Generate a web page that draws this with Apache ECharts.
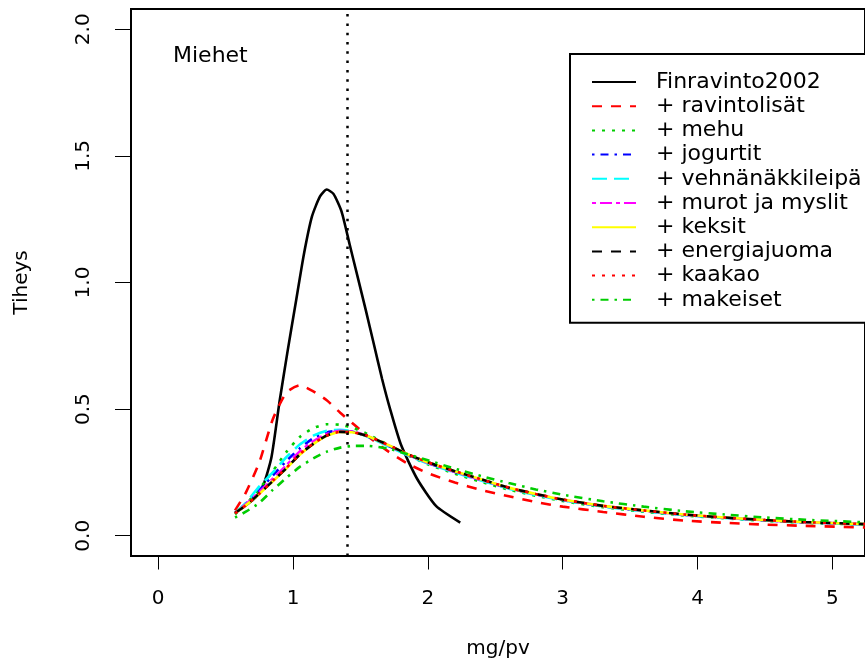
<!DOCTYPE html>
<html>
<head>
<meta charset="utf-8">
<script src="https://cdn.jsdelivr.net/npm/echarts@6/dist/echarts.min.js"></script>
<style>
html,body{margin:0;padding:0;background:#fff;}
#chart{width:865px;height:668px;}
</style>
</head>
<body>
<div id="chart"></div>
<script>
// x grid (mg/pv) shared by the lower density curves
var xGrid = [0.57, 0.65, 0.75, 0.85, 0.95, 1.05, 1.15, 1.25, 1.35, 1.45, 1.55, 1.7, 1.85, 2.0, 2.2, 2.4, 2.6, 2.8, 3.0, 3.3, 3.6, 3.9, 4.2, 4.5, 4.8, 5.3];

// Finravinto2002 has its own (narrower) grid
var finX = [0.57, 0.65, 0.72, 0.78, 0.84, 0.9, 0.96, 1.02, 1.08, 1.14, 1.2, 1.25, 1.3, 1.36, 1.42, 1.48, 1.54, 1.6, 1.66, 1.72, 1.8, 1.92, 2.06, 2.24];
var finY = [0.09, 0.12, 0.15, 0.2, 0.31, 0.53, 0.73, 0.92, 1.11, 1.26, 1.34, 1.367, 1.35, 1.28, 1.15, 1.02, 0.89, 0.755, 0.62, 0.5, 0.36, 0.225, 0.118, 0.052];

var ravintolisat = [0.1, 0.17, 0.29, 0.46, 0.565, 0.594, 0.57, 0.535, 0.486, 0.44, 0.395, 0.335, 0.285, 0.247, 0.21, 0.18, 0.156, 0.133, 0.115, 0.094, 0.075, 0.06, 0.051, 0.044, 0.039, 0.032];
var mehu = [0.085, 0.125, 0.185, 0.255, 0.33, 0.39, 0.425, 0.44, 0.438, 0.425, 0.402, 0.36, 0.318, 0.282, 0.245, 0.212, 0.182, 0.158, 0.137, 0.113, 0.095, 0.08, 0.069, 0.059, 0.051, 0.043];
var jogurtit = [0.09, 0.127, 0.18, 0.238, 0.295, 0.345, 0.385, 0.408, 0.415, 0.41, 0.393, 0.357, 0.32, 0.287, 0.252, 0.219, 0.188, 0.163, 0.141, 0.116, 0.098, 0.083, 0.071, 0.061, 0.053, 0.044];
var vehnanakkileipa = [0.09, 0.13, 0.195, 0.25, 0.31, 0.36, 0.395, 0.415, 0.418, 0.41, 0.392, 0.355, 0.318, 0.285, 0.25, 0.217, 0.186, 0.161, 0.14, 0.115, 0.097, 0.082, 0.07, 0.06, 0.052, 0.044];
var murot = [0.09, 0.124, 0.173, 0.225, 0.278, 0.333, 0.373, 0.402, 0.414, 0.41, 0.394, 0.359, 0.321, 0.288, 0.253, 0.22, 0.189, 0.164, 0.142, 0.117, 0.099, 0.083, 0.071, 0.061, 0.053, 0.045];
var keksit = [0.09, 0.12, 0.165, 0.215, 0.265, 0.32, 0.362, 0.395, 0.41, 0.408, 0.394, 0.36, 0.322, 0.29, 0.255, 0.222, 0.19, 0.165, 0.143, 0.118, 0.1, 0.084, 0.072, 0.062, 0.054, 0.045];
var energiajuoma = [0.09, 0.12, 0.166, 0.216, 0.266, 0.321, 0.363, 0.396, 0.41, 0.408, 0.394, 0.36, 0.322, 0.29, 0.255, 0.222, 0.19, 0.165, 0.143, 0.118, 0.1, 0.084, 0.072, 0.062, 0.054, 0.045];
var kaakao = [0.088, 0.12, 0.166, 0.217, 0.268, 0.322, 0.364, 0.396, 0.41, 0.408, 0.395, 0.36, 0.322, 0.29, 0.255, 0.222, 0.19, 0.165, 0.143, 0.118, 0.1, 0.084, 0.072, 0.062, 0.054, 0.045];
var makeiset = [0.072, 0.095, 0.13, 0.181, 0.228, 0.272, 0.305, 0.332, 0.348, 0.355, 0.355, 0.345, 0.322, 0.298, 0.265, 0.235, 0.208, 0.183, 0.162, 0.136, 0.115, 0.097, 0.084, 0.072, 0.063, 0.052];

var xTicks = [0, 1, 2, 3, 4, 5];
var yTicks = [0, 0.5, 1, 1.5, 2];
var refLine = 1.4;

var names = ['Finravinto2002', '+ ravintolisät', '+ mehu', '+ jogurtit', '+ vehnänäkkileipä',
	'+ murot ja myslit', '+ keksit', '+ energiajuoma', '+ kaakao', '+ makeiset'];
var colors = ['#000000', '#ff0000', '#00cd00', '#0000ff', '#00ffff', '#ff00ff', '#ffff00', '#000000', '#ff0000', '#00cd00'];
// R lty 1..6 then again
var dashes = ['solid', [10, 9], [3, 7], [2.5, 6, 8, 6], [15, 7], [4, 4, 12, 4], 'solid', [10, 9], [3, 7], [2.5, 6, 8, 6]];

function pairs(xs, ys){
	var out = [];
	for (var i = 0; i < xs.length; i++) out.push([xs[i], ys[i]]);
	return out;
}

var values = [finY, ravintolisat, mehu, jogurtit, vehnanakkileipa, murot, keksit, energiajuoma, kaakao, makeiset];
var font = 'DejaVu Sans';

var series = [];
for (var i = 0; i < names.length; i++){
	series.push({
		name: names[i],
		type: 'line',
		data: i == 0 ? pairs(finX, finY) : pairs(xGrid, values[i]),
		symbol: 'none',
		smooth: 0.2,
		lineStyle: {color: colors[i], width: 2.6, type: dashes[i]},
		itemStyle: {color: colors[i]}
	});
}
// vertical dotted line
series[0].markLine = {
	silent: true,
	symbol: 'none',
	label: {show: false},
	lineStyle: {color: '#000', width: 2.5, type: [2.5, 6.8]},
	data: [{xAxis: refLine}]
};

var chart = echarts.init(document.getElementById('chart'));
chart.setOption({
	animation: false,
	backgroundColor: '#fff',
	textStyle: {fontFamily: font},
	title: {
		text: 'Miehet', left: 168, top: 40,
		textStyle: {fontFamily: font, fontSize: 22, fontWeight: 'normal', color: '#000'}
	},
	grid: {left: 131, top: 9, width: 748.4, height: 547, show: true, borderColor: '#000', borderWidth: 2},
	legend: {
		orient: 'vertical',
		left: 570, top: 54,
		selectedMode: false,
		data: names,
		itemWidth: 44, itemHeight: 20, itemGap: 2.2,
		itemStyle: {opacity: 0},
		padding: [17, 80, 12, 21],
		borderColor: '#000', borderWidth: 2,
		backgroundColor: '#fff',
		textStyle: {fontFamily: font, fontSize: 22, color: '#000', lineHeight: 20, padding: [0, 0, 0, 15]}
	},
	xAxis: {
		type: 'value', min: -0.2016, max: 5.2416,
		name: 'mg/pv', nameLocation: 'middle', nameGap: 83,
		nameTextStyle: {fontFamily: font, fontSize: 20, color: '#000'},
		axisLine: {show: false, onZero: false},
		axisTick: {show: true, length: 13.5, lineStyle: {color: '#000', width: 1}, customValues: xTicks},
		axisLabel: {margin: 33, fontFamily: font, fontSize: 20, color: '#000', customValues: xTicks},
		splitLine: {show: false}
	},
	yAxis: {
		type: 'value', min: -0.08, max: 2.08,
		name: 'Tiheys', nameLocation: 'middle', nameGap: 99, nameRotate: 90,
		nameTextStyle: {fontFamily: font, fontSize: 20, color: '#000'},
		axisLine: {show: false, onZero: false},
		axisTick: {show: true, length: 16, lineStyle: {color: '#000', width: 1}, customValues: yTicks},
		axisLabel: {margin: 37, rotate: 90, fontFamily: font, fontSize: 20, color: '#000', customValues: yTicks,
			formatter: function(v){ return v.toFixed(1); }},
		splitLine: {show: false}
	},
	series: series
});
</script>
</body>
</html>
